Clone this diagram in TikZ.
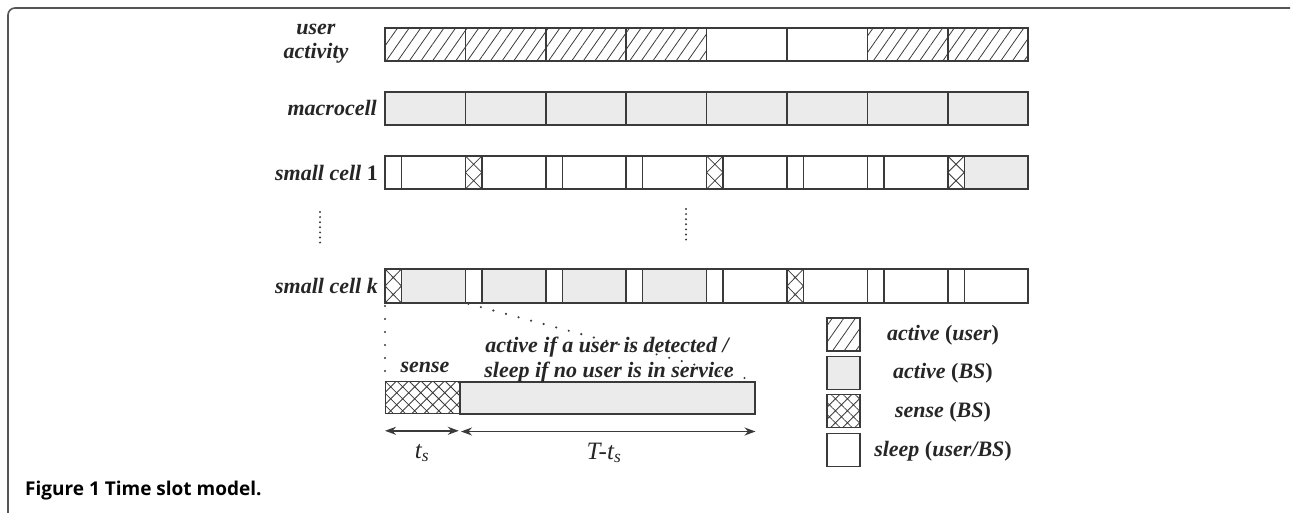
\documentclass[tikz,border=0pt]{standalone}
\usepackage{fontspec}
\setmainfont{Liberation Serif}
\newfontfamily\capfont{Open Sans}
\usetikzlibrary{patterns.meta,arrows.meta}
\definecolor{ink}{HTML}{3A3A3A}
\definecolor{cellgray}{HTML}{EBEBEB}
\definecolor{framegray}{HTML}{555555}

\tikzset{
  slotline/.style={draw=ink, line width=1.5pt},
  uhatch/.style={slotline, pattern={Lines[angle=55,distance=9.5pt,line width=0.8pt]}, pattern color=ink},
  xhatch/.style={slotline, pattern={Hatch[angle=45,distance=8.5pt,line width=0.8pt]}, pattern color=ink},
  ublank/.style={slotline, fill=white},
  ugray/.style={slotline, fill=cellgray},
  usense/.style={slotline, fill=white, path picture={
      \draw[ink, line width=0.8pt]
        (path picture bounding box.north west) -- (path picture bounding box.east) -- (path picture bounding box.south west)
        (path picture bounding box.north east) -- (path picture bounding box.west) -- (path picture bounding box.south east);}},
  rowlab/.style={font=\fontsize{22}{24}\selectfont\bfseries\itshape, inner sep=0pt, text=black!85},
  legbox/.style={minimum width=33pt, minimum height=33pt, inner sep=0pt},
  legtext/.style={font=\fontsize{22}{24}\selectfont\bfseries\itshape, inner sep=0pt, text=black!85},
  detbox/.style={minimum height=32pt, inner sep=0pt, anchor=north west},
  dotline/.style={ink, line width=2.4pt, line cap=round, dash pattern=on 0pt off 13pt},
  vdots/.style={ink, line width=2.2pt, line cap=round, dash pattern=on 0pt off 5.1pt},
  dimline/.style={ink, line width=1.6pt, {Stealth[length=11pt,width=8pt]}-{Stealth[length=11pt,width=8pt]}},
  dimlab/.style={font=\fontsize{25}{27}\selectfont\itshape, inner sep=0pt, text=black!85},
}

\begin{document}
\begin{tikzpicture}[x=1pt, y=-1pt]
\useasboundingbox (0,0) rectangle (1291,513);

% outer frame of the figure panel
\draw[framegray, line width=1.6pt, rounded corners=7pt] (8,513) -- (8,8) -- (1290,8);

% row labels
\node[rowlab, align=center] (luser) at (316,44) {user\\activity};
\node[rowlab, anchor=east] (lmacro) at (377,108) {macrocell};
\node[rowlab, anchor=east] (lsc1) at (378,173) {small cell \textup{1}};
\node[rowlab, anchor=east] (lsck) at (378,286) {small cell k};

% user activity slots
\foreach \s [count=\i from 0] in {uhatch,uhatch,uhatch,uhatch,ublank,ublank,uhatch,uhatch}
  \draw[\s] ({385+80.4*\i},28) rectangle ({465.4+80.4*\i},61);

% macrocell slots
\foreach \i in {0,...,7}
  \draw[ugray] ({385+80.4*\i},92) rectangle ({465.4+80.4*\i},125);

% small cell 1: sense part / remainder of each slot
\foreach \a/\b [count=\i from 0] in {ublank/ublank,usense/ublank,ublank/ublank,ublank/ublank,usense/ublank,ublank/ublank,ublank/ublank,usense/ugray}{
  \draw[\b] ({401.5+80.4*\i},156) rectangle ({465.4+80.4*\i},189);
  \draw[\a] ({385+80.4*\i},156) rectangle ({401.5+80.4*\i},189);
}

% small cell k
\foreach \a/\b [count=\i from 0] in {usense/ugray,ublank/ugray,ublank/ugray,ublank/ugray,ublank/ublank,usense/ublank,ublank/ublank,ublank/ublank}{
  \draw[\b] ({401.5+80.4*\i},269) rectangle ({465.4+80.4*\i},303);
  \draw[\a] ({385+80.4*\i},269) rectangle ({401.5+80.4*\i},303);
}

% vertical ellipses between rows
\draw[vdots] (320,212) -- (320,243);
\draw[vdots] (686,209) -- (686,241);

% detail of one slot
\node[detbox, xhatch, minimum width=74pt] (dsense) at (385,381) {};
\node[detbox, ugray, minimum width=295pt] (dactive) at (459,381) {};

\node[legtext] (tsense) at (425,367) {sense};
\node[legtext] (tact1) at (607,347) {active if a user is detected /};
\node[legtext] (tact2) at (609,372) {sleep if no user is in service};

\coordinate (k1) at (385,303);
\coordinate (k2) at (465.4,303);
\draw[dotline, shorten <=3pt, shorten >=9pt] (k1) -- (dsense.north west);
\draw[dotline, shorten <=3pt, shorten >=2pt] (k2) -- (dactive.north east);

% slot duration arrows
\draw[dimline] ([yshift=-17pt]dsense.south west) -- ([yshift=-17pt,xshift=-1pt]dsense.south east);
\draw[dimline] ([yshift=-17pt,xshift=2pt]dactive.south west) -- ([yshift=-17pt]dactive.south east);
\node[dimlab] (ts) at (422,453) {t\textsubscript{s}};
\node[dimlab] (tts) at (604,453) {T-t\textsubscript{s}};

% legend
\node[legbox, uhatch] (lg1) at (843.5,334.5) {};
\node[legbox, ugray]  (lg2) at (843.5,373) {};
\node[legbox, xhatch] (lg3) at (843.5,411) {};
\node[legbox, ublank] (lg4) at (843.5,450) {};
\node[legtext] (lt1) at (943,335) {active \textup{(}user\textup{)}};
\node[legtext] (lt2) at (943,373) {active \textup{(}BS\textup{)}};
\node[legtext] (lt3) at (943,412) {sense \textup{(}BS\textup{)}};
\node[legtext] (lt4) at (943,451) {sleep \textup{(}user/BS\textup{)}};

% caption
\node[anchor=west, inner sep=0pt, font=\capfont\bfseries\fontsize{19}{21}\selectfont] (cap) at (25,491)
  {Figure 1 Time slot model.};
\end{tikzpicture}
\end{document}
